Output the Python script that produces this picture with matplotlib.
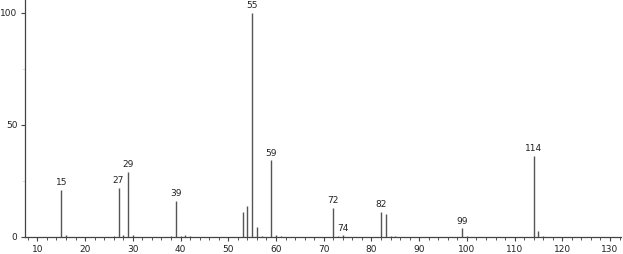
import matplotlib
matplotlib.use("Agg")
import matplotlib.pyplot as plt
from matplotlib.ticker import MultipleLocator

mz = [15, 16, 26, 27, 28, 29, 30, 38, 39, 40, 41, 42, 53, 54, 55, 56, 57, 59, 60, 61,
      72, 73, 74, 82, 83, 84, 85, 99, 100, 114, 115, 116]
intensity = [21, 0.8, 0.6, 22, 1.0, 29.2, 1.0, 0.5, 16, 0.6, 0.8, 0.5, 11.2, 14, 100, 4.5, 0.6, 34.2, 0.9, 0.5,
             13.1, 0.5, 0.7, 11.2, 10.4, 0.6, 0.5, 3.9, 0.5, 36.3, 2.8, 0.5]
labeled = [15, 27, 29, 39, 55, 59, 72, 74, 82, 99, 114]

fig = plt.figure(figsize=(6.23, 2.54), dpi=100)
ax = fig.add_axes([25/623, 1-237/254, (621-25)/623, 237/254])

ax.vlines(mz, 0, intensity, colors="#555555", linewidth=1.0)
for m, v in zip(mz, intensity):
    if m in labeled:
        ax.text(m, v + 1.2, str(m), ha="center", va="bottom",
                fontsize=6.5, color="#222222")

ax.set_xlim(7.4, 132.3)
ax.set_ylim(0, 105.8)
ax.spines["top"].set_visible(False)
ax.spines["right"].set_visible(False)
for s in ("left", "bottom"):
    ax.spines[s].set_linewidth(0.9)
    ax.spines[s].set_color("#444444")
ax.xaxis.set_major_locator(MultipleLocator(10))
ax.xaxis.set_minor_locator(MultipleLocator(2))
ax.yaxis.set_major_locator(MultipleLocator(50))
ax.yaxis.set_minor_locator(MultipleLocator(25))
ax.tick_params(axis="both", which="major", labelsize=6.5, length=3, width=0.8, pad=2.5,
               color="#444444", labelcolor="#222222")
ax.tick_params(axis="x", which="minor", length=2, width=0.7, color="#555555")
ax.tick_params(axis="y", which="minor", length=2, width=0.5, color="#cccccc")

fig.savefig("out.png", dpi=100)
